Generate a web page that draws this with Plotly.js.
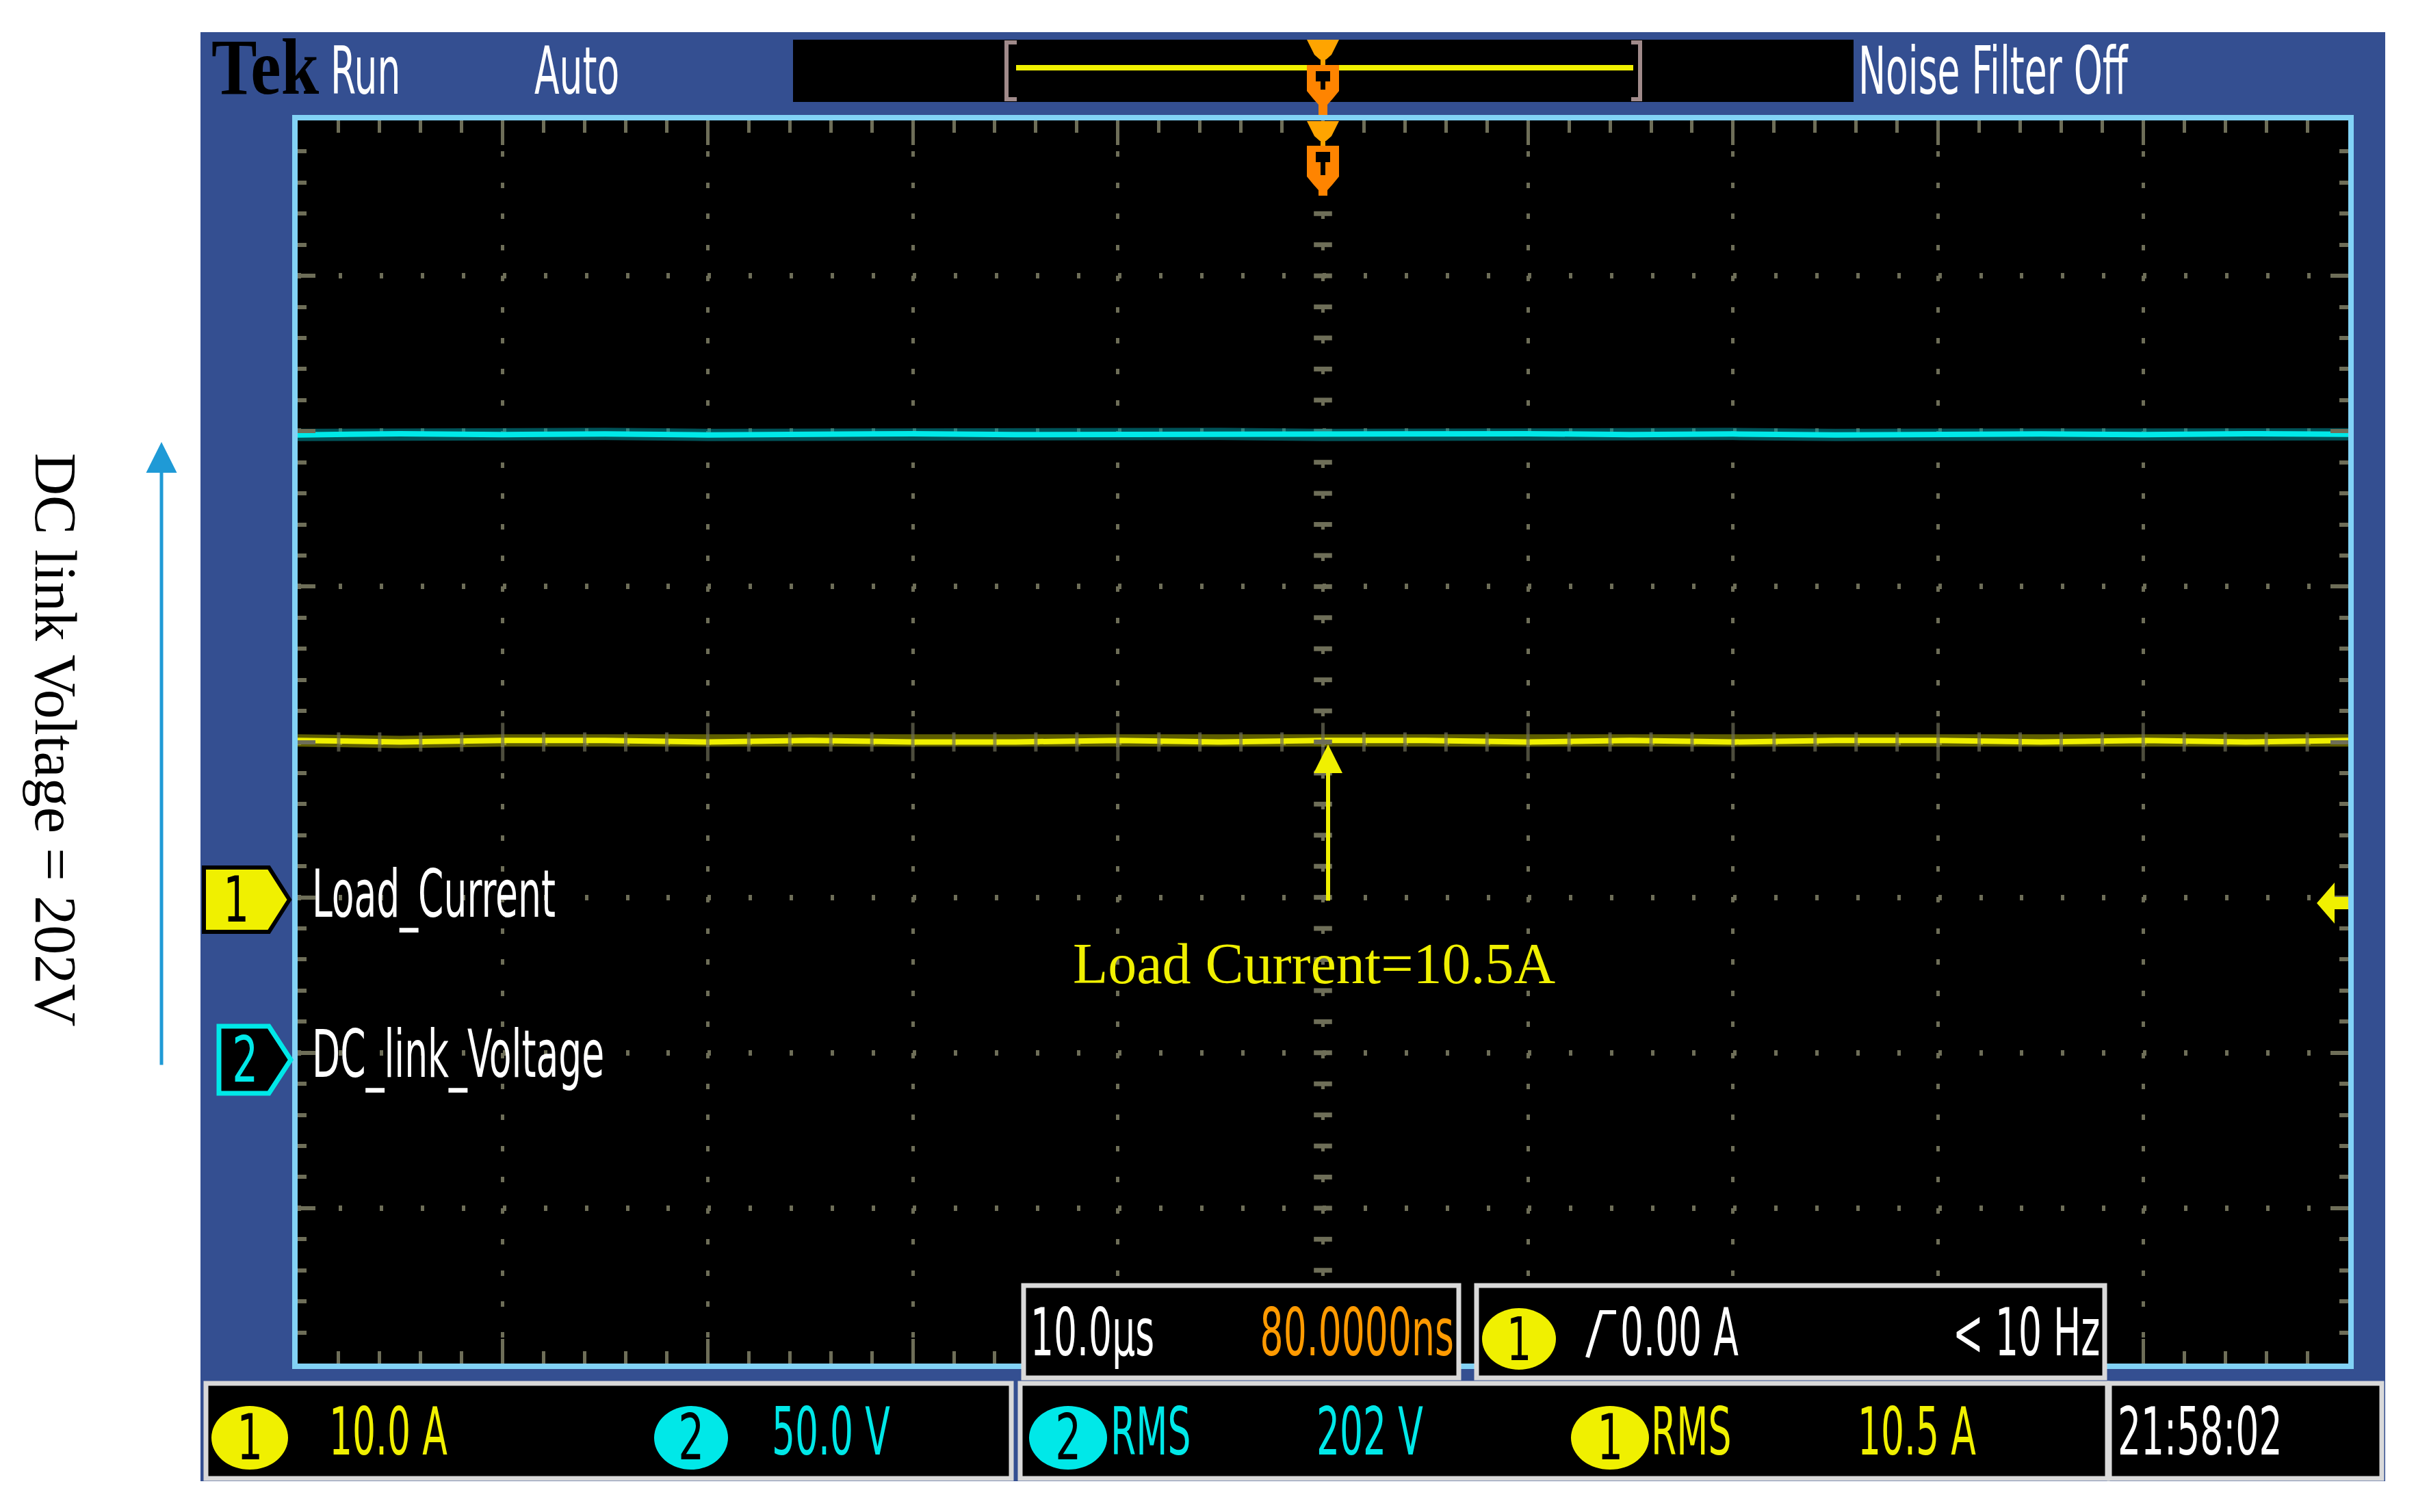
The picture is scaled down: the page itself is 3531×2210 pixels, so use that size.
<!DOCTYPE html>
<html>
<head>
<meta charset="utf-8">
<script src="https://cdn.plot.ly/plotly-3.0.1.min.js"></script>
<style>html,body{margin:0;padding:0;background:#fff}#scope{width:3531px;height:2210px}</style>
</head>
<body>
<div id="scope"></div>
<script>
// Tek scope capture: ch1 load current, ch2 DC link voltage, 10 us/div
const W = 3531, H = 2210;

// samples (flat traces)
const TIME_US = [-50, -45, -40, -35, -30, -25, -20, -15, -10, -5, 0, 5, 10, 15, 20, 25, 30, 35, 40, 45, 50];
const LOAD_CURRENT_A = [10.1, 10.0, 10.1, 10.1, 10.0, 10.1, 10.0, 10.0, 10.1, 10.0, 10.1, 10.1, 10.0, 10.1, 10.0, 10.1, 10.1, 10.0, 10.1, 10.0, 10.1];
const DC_LINK_V = [198.8, 199.2, 198.9, 199.1, 198.8, 199.0, 199.2, 198.9, 199.0, 199.1, 198.8, 199.0, 199.2, 198.9, 199.1, 198.8, 199.0, 199.1, 198.9, 199.2, 199.0];

// channel settings (per division, ground marker offset in divisions)
const CH1_PER_DIV = 10, CH1_OFFSET = -1;
const CH2_PER_DIV = 50, CH2_OFFSET = -2;
const T_PER_DIV = 10;

// readouts
const CH_NAMES = ['Load_Current', 'DC_link_Voltage'];
const CH_SCALES = ['10.0 A', '50.0 V'];
const RMS_VALUES = ['202 V', '10.5 A'];
const TIMEBASE = '10.0µs', TRIG_POS = '80.0000ns', TRIG_LEVEL = '0.00 A', TRIG_FREQ = '< 10 Hz', CLOCK = '21:58:02';

const YEL = '#f0f000', CYAN = '#00e8e8', ORANGE = '#ff9a00', PANEL = '#344f91', BORDER = '#82d2f5',
      GRID = '#6e6e58', FRAME = '#d9d9d9';
const SCOPE_FONT = '"Liberation Sans Narrow", "Arial Narrow", "DejaVu Sans Condensed", "Liberation Sans", sans-serif';
const SERIF = '"Liberation Serif", "Times New Roman", serif';
const NARROW = 0.62;   // the scope's own font is very condensed

const px = x => x / W, py = y => 1 - y / H;
const pt = ([x, y]) => px(x) + ',' + py(y);

function rect(x0, y0, x1, y1, fill, layer, line) {
  return { type: 'rect', xref: 'paper', yref: 'paper', x0: px(x0), x1: px(x1), y0: py(y1), y1: py(y0),
    fillcolor: fill, line: line || { width: 0 }, layer: layer || 'above' };
}
function poly(pts, fill, line, closed = true) {
  return { type: 'path', xref: 'paper', yref: 'paper', path: 'M' + pts.map(pt).join('L') + (closed ? 'Z' : ''),
    fillcolor: fill, line: line || { width: 0 }, layer: 'above' };
}
function ellipse(x0, y0, x1, y1, fill) {
  return { type: 'circle', xref: 'paper', yref: 'paper', x0: px(x0), x1: px(x1), y0: py(y1), y1: py(y0),
    fillcolor: fill, line: { width: 0 }, layer: 'above' };
}
function txt(text, x, y, color, size, extra) {
  return Object.assign({ text, x: px(x), y: py(y), xref: 'paper', yref: 'paper', showarrow: false, narrow: NARROW,
    xanchor: 'left', yanchor: 'middle', font: { family: SCOPE_FONT, size: size || 96, color } }, extra || {});
}

// trigger marker (amber triangle + orange shield with a T)
function trigMarker(top, shieldTop, shieldBot, tip) {
  return [
    poly([[1910, top], [1957, top], [1946, top + 22], [1938, top + 29], [1929, top + 29], [1921, top + 22]], '#ffa400'),
    rect(1930, top + 27, 1937, shieldTop, '#ffa400'),
    poly([[1910, shieldTop], [1957, shieldTop], [1957, shieldBot], [1948, shieldBot + 11], [1940, shieldBot + 20],
          [1940, tip], [1927, tip], [1927, shieldBot + 20], [1919, shieldBot + 11], [1910, shieldBot]], '#ff8400'),
    rect(1923, shieldTop + 9, 1944, shieldTop + 24, '#000'),
    rect(1930, shieldTop + 24, 1937, shieldBot - 2, '#000'),
  ];
}

const shapes = [
  rect(293, 47, 3486, 2165, PANEL, 'below'),
  rect(1159, 58, 2709, 149, '#000', 'below'),
  rect(435, 176, 3432, 1993, '#000', 'below'),
  // plot border
  rect(431, 172, 3436, 1997, 'rgba(0,0,0,0)', 'above', { color: BORDER, width: 8 }),
  // record-length bar in the top strip
  { type: 'line', xref: 'paper', yref: 'paper', x0: px(1485), x1: px(2387), y0: py(99), y1: py(99), line: { color: YEL, width: 8 }, layer: 'above' },
  poly([[1486, 62], [1471, 62], [1471, 145], [1486, 145]], 'rgba(0,0,0,0)', { color: '#a08a8a', width: 6 }, false),
  poly([[2384, 62], [2397, 62], [2397, 145], [2384, 145]], 'rgba(0,0,0,0)', { color: '#a08a8a', width: 6 }, false),
  ...trigMarker(58, 95, 133, 168),
  ...trigMarker(177, 213, 258, 286),
  // channel ground markers
  poly([[298, 1268], [393, 1268], [423, 1315], [393, 1362], [298, 1362]], YEL, { color: '#000', width: 6 }),
  poly([[320, 1500], [393, 1500], [425, 1549], [393, 1598], [320, 1598]], '#000', { color: CYAN, width: 7 }),
  // trigger level arrow on the right edge
  poly([[3386, 1320], [3412, 1290], [3412, 1311], [3432, 1311], [3432, 1329], [3412, 1329], [3412, 1350]], YEL),
  // readout boxes
  rect(301, 2022, 1478, 2161, '#000', 'above', { color: FRAME, width: 7 }),
  rect(1491, 2022, 3080, 2161, '#000', 'above', { color: FRAME, width: 7 }),
  rect(3083, 2022, 3481, 2161, '#000', 'above', { color: FRAME, width: 7 }),
  rect(1496, 1879, 2132, 2014, '#000', 'above', { color: FRAME, width: 7 }),
  rect(2158, 1879, 3076, 2014, '#000', 'above', { color: FRAME, width: 7 }),
  ellipse(309, 2055, 421, 2148, YEL),
  ellipse(956, 2055, 1064, 2148, CYAN),
  ellipse(1504, 2055, 1618, 2148, CYAN),
  ellipse(2296, 2055, 2410, 2148, YEL),
  ellipse(2166, 1912, 2274, 2002, YEL),
  // rising-edge symbol
  poly([[2320, 1984], [2340, 1918], [2362, 1918]], 'rgba(0,0,0,0)', { color: '#fff', width: 6 }, false),
];

const digit = (d, x, y, color, size) => txt(d, x, y, color, size || 92, { xanchor: 'center', narrow: 0.72 });

const annotations = [
  txt('<b>Tek</b>', 307, 98, '#000', 116, { narrow: 0.86, font: { family: SERIF, size: 116, color: '#000' } }),
  txt('Run', 481, 104, '#fff'),
  txt('Auto', 779, 104, '#fff'),
  txt('Noise Filter Off', 2714, 104, '#fff'),
  digit('1', 345, 1315, '#000'),
  digit('2', 358, 1549, CYAN),
  txt(CH_NAMES[0], 454, 1307, '#fff'),
  txt(CH_NAMES[1], 454, 1541, '#fff'),
  digit('1', 365, 2101, '#000'),
  txt(CH_SCALES[0], 479, 2093, YEL),
  digit('2', 1010, 2101, '#000'),
  txt(CH_SCALES[1], 1126, 2093, CYAN),
  digit('2', 1561, 2101, '#000'),
  txt('RMS', 1621, 2093, CYAN),
  txt(RMS_VALUES[0], 1922, 2093, CYAN),
  digit('1', 2353, 2101, '#000'),
  txt('RMS', 2411, 2093, YEL),
  txt(RMS_VALUES[1], 2713, 2093, YEL),
  txt(CLOCK, 3093, 2093, '#fff'),
  txt(TIMEBASE, 1504, 1948, '#fff'),
  txt(TRIG_POS, 2127, 1948, ORANGE, 96, { xanchor: 'right' }),
  digit('1', 2220, 1957, '#000', 88),
  txt(TRIG_LEVEL, 2366, 1948, '#fff'),
  txt(TRIG_FREQ, 3071, 1948, '#fff', 96, { xanchor: 'right' }),
  // figure annotations
  txt('Load Current=10.5A', 1921, 1408, YEL, 84, { xanchor: 'center', narrow: 0, font: { family: SERIF, size: 84, color: YEL } }),
  txt('DC link Voltage = 202V', 81, 1081, '#000', 86, { xanchor: 'center', narrow: 0, textangle: 90, font: { family: SERIF, size: 86, color: '#000' } }),
  { text: '', x: px(1941), y: py(1088), xref: 'paper', yref: 'paper', showarrow: true, ax: 0, ay: 230,
    arrowcolor: YEL, arrowwidth: 6, arrowhead: 2, arrowsize: 1.4, standoff: 0 },
  { text: '', x: px(236), y: py(646), xref: 'paper', yref: 'paper', showarrow: true, ax: 0, ay: 912,
    arrowcolor: '#1f9ad6', arrowwidth: 5, arrowhead: 2, arrowsize: 1.8, standoff: 0 },
];

// center graticule ticks (every minor division along the two center lines)
const yMid = -CH1_OFFSET * CH1_PER_DIV;
const cx = [], cy = [], cs = [], vx = [], vy = [];
for (let t = -5 * T_PER_DIV + 2; t < 5 * T_PER_DIV; t += 2) { cx.push(t); cy.push(yMid); cs.push(t % 10 === 0 ? 40 : 20); }
for (let a = yMid - 4 * CH1_PER_DIV + 2; a < yMid + 4 * CH1_PER_DIV; a += 2) { vx.push(0); vy.push(a); }

const traces = [
  { x: TIME_US, y: LOAD_CURRENT_A, mode: 'lines', line: { color: 'rgba(170,170,0,0.55)', width: 18 }, hoverinfo: 'skip' },
  { x: TIME_US, y: LOAD_CURRENT_A, mode: 'lines', line: { color: YEL, width: 8 }, name: CH_NAMES[0] },
  { x: TIME_US, y: DC_LINK_V, yaxis: 'y2', mode: 'lines', line: { color: 'rgba(0,150,160,0.55)', width: 18 }, hoverinfo: 'skip' },
  { x: TIME_US, y: DC_LINK_V, yaxis: 'y2', mode: 'lines', line: { color: CYAN, width: 8 }, name: CH_NAMES[1] },
  { x: cx, y: cy, mode: 'markers', marker: { symbol: 'line-ns', size: cs, line: { color: GRID, width: 5 } }, hoverinfo: 'skip' },
  { x: vx, y: vy, mode: 'markers', marker: { symbol: 'line-ew', size: 19, line: { color: GRID, width: 7 } }, hoverinfo: 'skip' },
];

const layout = {
  width: W, height: H, margin: { l: 0, r: 0, t: 0, b: 0 },
  paper_bgcolor: '#fff', plot_bgcolor: '#000', showlegend: false,
  xaxis: {
    domain: [px(435), px(3432)], range: [-5 * T_PER_DIV, 5 * T_PER_DIV], dtick: T_PER_DIV, tick0: 0,
    showgrid: true, gridcolor: GRID, gridwidth: 5, griddash: '8px,37.42px', zeroline: false,
    ticks: 'inside', ticklen: 36, tickwidth: 5, tickcolor: GRID, mirror: 'ticks', showline: false,
    minor: { dtick: 2, tick0: 0, ticks: 'inside', ticklen: 18, tickwidth: 5, tickcolor: GRID, showgrid: false },
    showticklabels: false, fixedrange: true,
  },
  yaxis: {
    domain: [py(1993), py(176)], range: [yMid - 4 * CH1_PER_DIV, yMid + 4 * CH1_PER_DIV], dtick: CH1_PER_DIV, tick0: 0,
    showgrid: true, gridcolor: GRID, gridwidth: 8, griddash: '5px,54.94px', zeroline: false,
    ticks: 'inside', ticklen: 26, tickwidth: 6, tickcolor: GRID, mirror: 'ticks', showline: false,
    minor: { dtick: 2, tick0: 0, ticks: 'inside', ticklen: 13, tickwidth: 6, tickcolor: GRID, showgrid: false },
    showticklabels: false, fixedrange: true,
  },
  yaxis2: {
    overlaying: 'y', range: [-CH2_OFFSET * CH2_PER_DIV - 4 * CH2_PER_DIV, -CH2_OFFSET * CH2_PER_DIV + 4 * CH2_PER_DIV],
    visible: false, fixedrange: true,
  },
  shapes, annotations,
};

Plotly.newPlot('scope', traces, layout, { displayModeBar: false, staticPlot: true }).then(gd => {
  // squeeze the scope readouts horizontally around their anchor
  gd.querySelectorAll('g.annotation').forEach(g => {
    const a = annotations[+g.getAttribute('data-index')];
    if (!a || !a.narrow) return;
    const t = g.querySelector('text.annotation-text');
    if (!t) return;
    const b = t.getBBox();
    const ax = a.xanchor === 'left' ? b.x : a.xanchor === 'right' ? b.x + b.width : b.x + b.width / 2;
    t.setAttribute('transform', `translate(${ax},0) scale(${a.narrow},1) translate(${-ax},0)`);
  });
});
</script>
</body>
</html>
